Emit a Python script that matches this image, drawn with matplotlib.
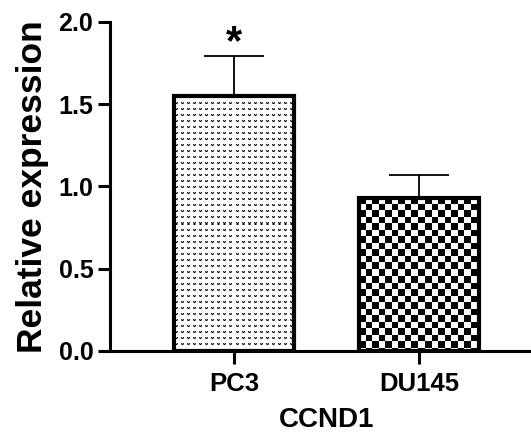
import numpy as np
import matplotlib
matplotlib.use("Agg")
import matplotlib.pyplot as plt

# data
categories = ["PC3", "DU145"]
means = [1.55, 0.93]
errors = [0.24, 0.14]
gene = "CCND1"
ylabel = "Relative expression"

plt.rcParams['font.family'] = ['Liberation Sans', 'DejaVu Sans']
plt.rcParams['font.weight'] = 'bold'


def dots_texture(h, w):
    # small "v" marks on a white background
    tile = np.ones((6, 6))
    tile[1, 1] = 0.15
    tile[1, 3] = 0.15
    tile[1, 2] = 0.65
    tile[2, 1] = 0.5
    tile[2, 3] = 0.5
    tile[2, 2] = 0.0
    reps = (h // 6 + 1, w // 6 + 1)
    return np.tile(tile, reps)[:h, :w]


def checker_texture(h, w, cell=6.5):
    yy, xx = np.mgrid[0:h, 0:w]
    return ((np.floor(xx / cell) + np.floor(yy / cell)) % 2).astype(float)


fig = plt.figure(figsize=(5.31, 4.32), dpi=100)
ax = fig.add_axes([0.207, 0.1875, 0.793, 0.762])

x = np.arange(len(categories))
ax.set_xlim(-0.67, 1.605)
ax.set_ylim(0, 2.0)

# white base, texture on top, then the outline
bars_fill = ax.bar(x, means, width=0.65, color='white', linewidth=0, zorder=1)
bars = ax.bar(x, means, width=0.65, facecolor='none', edgecolor='black',
              linewidth=3.0, zorder=4)

ax.errorbar(x, means, yerr=[np.zeros(len(errors)), errors], fmt='none',
            ecolor='black', elinewidth=1.3, capsize=21.5, capthick=1.3, zorder=3)

# fill patterns, clipped to bars
textures = [dots_texture, checker_texture]
for patch, tex in zip(bars_fill.patches, textures):
    bb = patch.get_window_extent()
    w, h = int(round(bb.width)), int(round(bb.height))
    img = tex(h, w)
    px0, py0 = patch.get_x(), patch.get_y()
    im = ax.imshow(img, cmap='gray', vmin=0, vmax=1, interpolation='nearest',
                   extent=[px0, px0 + patch.get_width(), py0, py0 + patch.get_height()],
                   aspect='auto', zorder=2, origin='upper')
    im.set_clip_path(patch)

ax.set_xlim(-0.67, 1.605)
ax.set_ylim(0, 2.0)

# significance mark
ax.text(x[0], means[0] + errors[0] + 0.08, "*", ha='center', va='center',
        fontsize=30, fontweight='bold')

for side in ['top', 'right']:
    ax.spines[side].set_visible(False)
for side in ['left', 'bottom']:
    ax.spines[side].set_linewidth(2.2)

ax.set_xticks(x)
ax.set_xticklabels(categories)
ax.set_yticks([0, 0.5, 1.0, 1.5, 2.0])
ax.set_yticklabels(["0.0", "0.5", "1.0", "1.5", "2.0"])
ax.tick_params(axis='both', direction='out', length=9, width=2.2, color='black')
ax.tick_params(axis='y', labelsize=18, pad=3)
ax.tick_params(axis='x', labelsize=18.5, pad=6)

ax.set_ylabel(ylabel, fontsize=25.5, fontweight='bold', labelpad=7)
ax.set_xlabel(gene, fontsize=20, fontweight='bold')
xl = ax.get_xlim()
ax.xaxis.set_label_coords((0.5 - xl[0]) / (xl[1] - xl[0]), -0.17)
ax.xaxis.label.set_va('top')

fig.savefig("out.png", dpi=100)
